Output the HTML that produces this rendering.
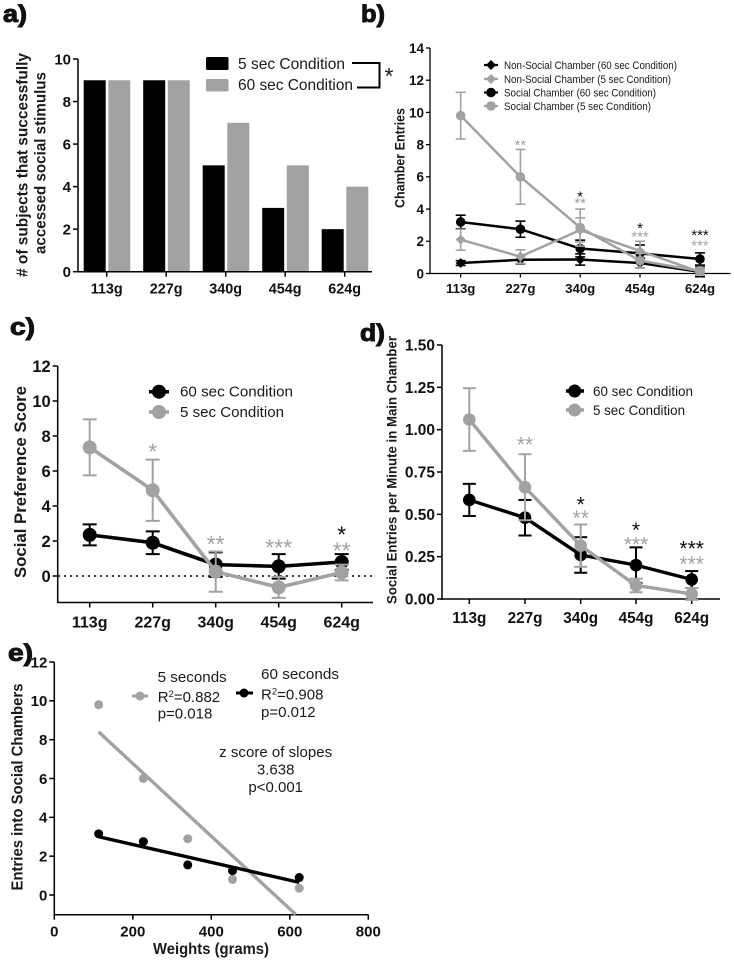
<!DOCTYPE html>
<html lang="en">
<head>
<meta charset="utf-8">
<title>Social stimulus access charts</title>
<style>
html,body{margin:0;padding:0;background:#fff;}
body{width:734px;height:961px;overflow:hidden;}
svg{display:block;filter:blur(0.35px);}
text{font-family:"Liberation Sans",sans-serif;fill:#1a1a1a;}
.b{font-weight:bold;}
.pl{font-weight:bold;font-size:24px;fill:#111;stroke:#111;stroke-width:1px;}
</style>
</head>
<body>
<svg id="fig" width="734" height="961" viewBox="0 0 734 961" xmlns="http://www.w3.org/2000/svg">
  <rect width="734" height="961" fill="#fff"/>

  <text class="pl" x="3" y="22" textLength="24" lengthAdjust="spacingAndGlyphs">a)</text>
  <text class="pl" x="361" y="22" textLength="24" lengthAdjust="spacingAndGlyphs">b)</text>
  <text class="pl" x="10" y="335" textLength="25" lengthAdjust="spacingAndGlyphs">c)</text>
  <text class="pl" x="360" y="341" textLength="25" lengthAdjust="spacingAndGlyphs">d)</text>
  <text class="pl" x="8" y="661" textLength="25" lengthAdjust="spacingAndGlyphs">e)</text>

  <!-- Panel a static -->
  <g id="panel-a">
    <text class="b" font-size="16" text-anchor="middle" textLength="224" lengthAdjust="spacingAndGlyphs" transform="translate(27.500,165) rotate(-90)"># of subjects that successfully</text>
    <text class="b" font-size="16" text-anchor="middle" textLength="182" lengthAdjust="spacingAndGlyphs" transform="translate(45.500,163) rotate(-90)">accessed social stimulus</text>
  </g>
  <g>
    <rect x="206" y="57" width="22.5" height="13" rx="1.5" fill="#000"/>
    <rect x="206" y="79" width="22.5" height="12.5" rx="1.5" fill="#a2a2a2"/>
    <text x="238" y="69" font-size="16" textLength="107" lengthAdjust="spacingAndGlyphs">5 sec Condition</text>
    <text x="238" y="90" font-size="16" textLength="115" lengthAdjust="spacingAndGlyphs">60 sec Condition</text>
    <path d="M352 63H379.5V87.5H357" fill="none" stroke="#000" stroke-width="2"/>
    <text x="389" y="84" font-size="23" text-anchor="middle" fill="#000">*</text>
  </g>

  <!-- Panel b static -->
  <g id="panel-b">
    <text class="b" font-size="13.500" text-anchor="middle" textLength="100" lengthAdjust="spacingAndGlyphs" transform="translate(404.500,158) rotate(-90)">Chamber Entries</text>
  </g>
  <g>
    <path d="M484 65H498" stroke="#000" stroke-width="2.2"/>
    <path d="M491 60L496 65L491 70L486 65Z" fill="#000"/>
    <path d="M484 79H498" stroke="#a2a2a2" stroke-width="2.2"/>
    <path d="M491 74L496 79L491 84L486 79Z" fill="#a2a2a2"/>
    <path d="M484 92.500H498" stroke="#000" stroke-width="2.2"/>
    <circle cx="491" cy="92.500" r="4.800" fill="#000"/>
    <path d="M484 106H498" stroke="#a2a2a2" stroke-width="2.2"/>
    <circle cx="491" cy="106" r="4.800" fill="#a2a2a2"/>
    <text x="504" y="69" font-size="11" textLength="173" lengthAdjust="spacingAndGlyphs">Non-Social Chamber (60 sec Condition)</text>
    <text x="504" y="83" font-size="11" textLength="167" lengthAdjust="spacingAndGlyphs">Non-Social Chamber (5 sec Condition)</text>
    <text x="504" y="96.500" font-size="11" textLength="152" lengthAdjust="spacingAndGlyphs">Social Chamber (60 sec Condition)</text>
    <text x="504" y="110" font-size="11" textLength="147" lengthAdjust="spacingAndGlyphs">Social Chamber (5 sec Condition)</text>
  </g>

  <!-- Panel c static -->
  <g id="panel-c">
    <text class="b" font-size="17" text-anchor="middle" textLength="192" lengthAdjust="spacingAndGlyphs" transform="translate(26,482) rotate(-90)">Social Preference Score</text>
  </g>
  <g>
    <path d="M149 391.700H169" stroke="#000" stroke-width="3.500"/>
    <circle cx="159" cy="391.700" r="7" fill="#000"/>
    <path d="M149 412H169" stroke="#a2a2a2" stroke-width="3.500"/>
    <circle cx="159" cy="412" r="7" fill="#a2a2a2"/>
    <text x="180" y="396.500" font-size="15" textLength="113" lengthAdjust="spacingAndGlyphs">60 sec Condition</text>
    <text x="180" y="417" font-size="15" textLength="104" lengthAdjust="spacingAndGlyphs">5 sec Condition</text>
  </g>

  <!-- Panel d static -->
  <g id="panel-d">
    <text class="b" font-size="14" text-anchor="middle" textLength="268" lengthAdjust="spacingAndGlyphs" transform="translate(396.500,470) rotate(-90)">Social Entries per Minute in Main Chamber</text>
  </g>
  <g>
    <path d="M566 391H584" stroke="#000" stroke-width="3.500"/>
    <circle cx="574.700" cy="391" r="6.500" fill="#000"/>
    <path d="M566 410H584" stroke="#a2a2a2" stroke-width="3.500"/>
    <circle cx="574.700" cy="410" r="6.500" fill="#a2a2a2"/>
    <text x="593" y="396" font-size="14" textLength="100" lengthAdjust="spacingAndGlyphs">60 sec Condition</text>
    <text x="593" y="415" font-size="14" textLength="92" lengthAdjust="spacingAndGlyphs">5 sec Condition</text>
  </g>

  <!-- Panel e static -->
  <g id="panel-e">
    <text class="b" font-size="15.500" text-anchor="middle" textLength="207" lengthAdjust="spacingAndGlyphs" transform="translate(22.500,787) rotate(-90)">Entries into Social Chambers</text>
    <text class="b" x="211" y="954" font-size="15.500" text-anchor="middle" textLength="116" lengthAdjust="spacingAndGlyphs">Weights (grams)</text>
  </g>
  <g>
    <path d="M132 696H148" stroke="#a2a2a2" stroke-width="3"/>
    <circle cx="140" cy="696" r="4.500" fill="#a2a2a2"/>
    <path d="M236 693H253" stroke="#000" stroke-width="3"/>
    <circle cx="244" cy="693" r="4.500" fill="#000"/>
    <text x="157.700" y="682" font-size="15" textLength="69" lengthAdjust="spacingAndGlyphs">5 seconds</text>
    <text x="157.700" y="702" font-size="15">R<tspan font-size="9.500" dy="-5">2</tspan><tspan dy="5">=0.882</tspan></text>
    <text x="157.700" y="718.500" font-size="15">p=0.018</text>
    <text x="261" y="679" font-size="15" textLength="78" lengthAdjust="spacingAndGlyphs">60 seconds</text>
    <text x="261" y="699.500" font-size="15">R<tspan font-size="9.500" dy="-5">2</tspan><tspan dy="5">=0.908</tspan></text>
    <text x="261" y="717" font-size="15">p=0.012</text>
    <text x="275.700" y="757" font-size="15" text-anchor="middle" textLength="113" lengthAdjust="spacingAndGlyphs">z score of slopes</text>
    <text x="275.700" y="774.500" font-size="15" text-anchor="middle">3.638</text>
    <text x="275.700" y="792" font-size="15" text-anchor="middle">p&lt;0.001</text>
  </g>
</svg>

<script>
// Shared categories
var weightLabels = ['113g', '227g', '340g', '454g', '624g'];

// Panel a
var aFiveSec = [9, 9, 5, 3, 2];
var aSixtySec = [9, 9, 7, 5, 4];
var aTicks = [0, 2, 4, 6, 8, 10];

// Panel b
var bTicks = [0, 2, 4, 6, 8, 10, 12, 14];
var bSocial5 = [9.8, 6, 2.85, 0.8, 0.15];
var bSocial5Err = [1.45, 1.7, 1.15, 0.45, 0.2];
var bSocial60 = [3.2, 2.75, 1.55, 1.25, 0.9];
var bSocial60Err = [0.42, 0.5, 0.52, 0.52, 0.38];
var bNon5 = [2.1, 1.05, 2.7, 1.4, 0.1];
var bNon5Err = [0.65, 0.42, 0.75, 0.6, 0.2];
var bNon60 = [0.65, 0.85, 0.87, 0.65, 0.1];
var bNon60Err = [0.15, 0.25, 0.35, 0.3, 0.3];
var bStars5 = ['', '**', '**', '***', '***'];
var bStars5Level = [0, 8.2, 4.6, 2.5, 1.95];
var bStars60 = ['', '', '*', '*', '***'];
var bStars60Level = [0, 0, 5, 3.05, 2.6];

// Panel c
var cTicks = [0, 2, 4, 6, 8, 10, 12];
var c60 = [2.35, 1.9, 0.65, 0.55, 0.8];
var c60Err = [0.6, 0.65, 0.7, 0.7, 0.45];
var c5 = [7.35, 4.9, 0.25, -0.65, 0.2];
var c5Err = [1.6, 1.75, 1.15, 0.6, 0.45];
var cStars5 = ['', '*', '**', '***', '**'];
var cStars5Level = [0, 7.4, 2.1, 1.9, 1.75];
var cStars60 = ['', '', '', '', '*'];
var cStars60Level = [0, 0, 0, 0, 2.65];

// Panel d
var dTicks = [0, 0.25, 0.5, 0.75, 1, 1.25, 1.5];
var dTickLabels = ['0.00', '0.25', '0.50', '0.75', '1.00', '1.25', '1.50'];
var d60 = [0.585, 0.48, 0.26, 0.2, 0.115];
var d60Err = [0.095, 0.105, 0.105, 0.105, 0.05];
var d5 = [1.06, 0.66, 0.315, 0.08, 0.03];
var d5Err = [0.185, 0.195, 0.125, 0.04, 0.035];
var dStars5 = ['', '**', '**', '***', '***'];
var dStars5Level = [0, 0.94, 0.505, 0.35, 0.235];
var dStars60 = ['', '', '*', '*', '***'];
var dStars60Level = [0, 0, 0.585, 0.435, 0.325];

// Panel e
var eXTicks = [0, 200, 400, 600, 800];
var eYTicks = [0, 2, 4, 6, 8, 10, 12];
var eWeights = [113, 227, 340, 454, 624];
var e5Points = [9.8, 6, 2.9, 0.8, 0.35];
var e60Points = [3.15, 2.75, 1.55, 1.25, 0.9];
var e5Fit = [8.4, -1];
var e5FitWeights = [113, 615];
var e60Fit = [3.0, 0.65];
var e60FitWeights = [113, 624];

var NS = 'http://www.w3.org/2000/svg';
var GRAY = '#a2a2a2';
var BLACK = '#000';

function mkLine(parent, x1, y1, x2, y2, stroke, width, name) {
  var el = document.createElementNS(NS, 'line');
  el.setAttribute('x1', x1);
  el.setAttribute('y1', y1);
  el.setAttribute('x2', x2);
  el.setAttribute('y2', y2);
  el.setAttribute('stroke', stroke);
  el.setAttribute('stroke-width', width);
  
  
  parent.appendChild(el);
  return el;
}

function mkText(parent, str, x, y, size, anchor, bold, fill, name) {
  var el = document.createElementNS(NS, 'text');
  el.setAttribute('x', x);
  el.setAttribute('y', y);
  el.setAttribute('font-size', size);
  el.setAttribute('text-anchor', anchor);
  if (bold) el.setAttribute('font-weight', 'bold');
  el.style.fill = fill;
  el.textContent = str;
  
  
  parent.appendChild(el);
  return el;
}

function mkCircle(parent, cx, cy, r, fill, name) {
  var el = document.createElementNS(NS, 'circle');
  el.setAttribute('cx', cx);
  el.setAttribute('cy', cy);
  el.setAttribute('r', r);
  el.setAttribute('fill', fill);
  
  
  parent.appendChild(el);
  return el;
}

function mkRect(parent, x, y, w, h, fill, name) {
  var el = document.createElementNS(NS, 'rect');
  el.setAttribute('x', x);
  el.setAttribute('y', y);
  el.setAttribute('width', w);
  el.setAttribute('height', h);
  el.setAttribute('fill', fill);
  
  
  parent.appendChild(el);
  return el;
}

function mkDiamond(parent, cx, cy, r, fill, name) {
  var el = document.createElementNS(NS, 'polygon');
  el.setAttribute('points', (cx - r) + ',' + cy + ' ' + cx + ',' + (cy - r) + ' ' + (cx + r) + ',' + cy + ' ' + cx + ',' + (cy + r));
  el.setAttribute('fill', fill);
  
  
  parent.appendChild(el);
  return el;
}

function scale(d0, d1, r0, r1) {
  return function (v) { return r0 + (v - d0) * (r1 - r0) / (d1 - d0); };
}

function drawYAxis(g, x, yTop, yBot, sy, ticks, labels, fs, sw, tl) {
  mkLine(g, x, yTop, x, yBot, BLACK, sw, 'y-axis-line');
  ticks.forEach(function (t, i) {
    mkLine(g, x - tl, sy(t), x, sy(t), BLACK, sw, 'y-axis-tick');
    mkText(g, labels[i], x - tl - 2, sy(t) + fs * 0.36, fs, 'end', true, '#111', 'y-axis-tick-label');
  });
}

function drawXAxis(g, y, xStart, xEnd, xs, labels, fs, sw, tl, gap) {
  mkLine(g, xStart, y, xEnd, y, BLACK, sw, 'x-axis-line');
  xs.forEach(function (x, i) {
    mkLine(g, x, y, x, y + tl, BLACK, sw, 'x-axis-tick');
    mkText(g, labels[i], x, y + gap, fs, 'middle', true, '#111', 'x-axis-tick-label');
  });
}

function drawSeries(g, xs, sy, vals, errs, color, lw, cap, capW, r, marker, name) {
  vals.forEach(function (v, i) {
    mkLine(g, xs[i], sy(v + errs[i]), xs[i], sy(v - errs[i]), color, capW, name + '-error-bar');
    mkLine(g, xs[i] - cap, sy(v + errs[i]), xs[i] + cap, sy(v + errs[i]), color, capW, name + '-error-cap-upper');
    mkLine(g, xs[i] - cap, sy(v - errs[i]), xs[i] + cap, sy(v - errs[i]), color, capW, name + '-error-cap-lower');
  });
  for (var i = 0; i < vals.length - 1; i++) {
    mkLine(g, xs[i], sy(vals[i]), xs[i + 1], sy(vals[i + 1]), color, lw, name + '-line-segment');
  }
  vals.forEach(function (v, i) {
    if (marker === 'diamond') {
      mkDiamond(g, xs[i], sy(v), r, color, name + '-point');
    } else {
      mkCircle(g, xs[i], sy(v), r, color, name + '-point');
    }
  });
}

function drawStars(g, xs, sy, stars, levels, color, fs, name) {
  stars.forEach(function (s, i) {
    if (!s) return;
    mkText(g, s, xs[i], sy(levels[i]) + fs * 0.56, fs, 'middle', false, color, name);
  });
}

/* ---------- Panel a ---------- */
(function () {
  var g = document.getElementById('panel-a');
  var sy = scale(0, 10, 271.7, 59);
  var xs = [106.7, 166.2, 225.7, 285.2, 344.7];
  aFiveSec.forEach(function (v, i) {
    mkRect(g, xs[i] - 23, sy(v), 22, sy(0) - sy(v), BLACK, 'bar-5-sec-' + weightLabels[i]);
  });
  aSixtySec.forEach(function (v, i) {
    mkRect(g, xs[i] + 1.6, sy(v), 22, sy(0) - sy(v), GRAY, 'bar-60-sec-' + weightLabels[i]);
  });
  drawYAxis(g, 78, 59, 272, sy, aTicks, aTicks, 15, 1.5, 5);
  drawXAxis(g, 271.7, 78, 372, xs, weightLabels, 14.4, 1.5, 5, 22);
})();

/* ---------- Panel b ---------- */
(function () {
  var g = document.getElementById('panel-b');
  var sy = scale(0, 14, 273.5, 48);
  var xs = [460.7, 520.4, 580.2, 640, 700];
  drawYAxis(g, 430, 48, 274, sy, bTicks, bTicks, 13.5, 1.3, 4);
  drawXAxis(g, 273.5, 430, 730.5, xs, weightLabels, 13.2, 1.3, 4, 19.5);
  drawSeries(g, xs, sy, bNon60, bNon60Err, BLACK, 2.5, 5, 1.6, 5, 'diamond', 'nonsocial-60-sec');
  drawSeries(g, xs, sy, bSocial60, bSocial60Err, BLACK, 2.5, 5, 1.6, 4.8, 'circle', 'social-60-sec');
  drawSeries(g, xs, sy, bNon5, bNon5Err, GRAY, 2.5, 5, 1.6, 5, 'diamond', 'nonsocial-5-sec');
  drawSeries(g, xs, sy, bSocial5, bSocial5Err, GRAY, 2.5, 5, 1.6, 4.8, 'circle', 'social-5-sec');
  drawStars(g, xs, sy, bStars5, bStars5Level, GRAY, 15, 'significance-5-sec');
  drawStars(g, xs, sy, bStars60, bStars60Level, '#111', 15, 'significance-60-sec');
})();

/* ---------- Panel c ---------- */
(function () {
  var g = document.getElementById('panel-c');
  var sy = scale(0, 12, 576, 366);
  var xs = [89.7, 152.7, 215.7, 278.7, 341.7];
  drawYAxis(g, 57.7, 366, 603, sy, cTicks, cTicks, 16.5, 1.5, 5);
  drawXAxis(g, 602.5, 57.7, 373, xs, weightLabels, 16, 1.5, 5, 25);
  var dots = mkLine(g, 58, sy(0), 373, sy(0), BLACK, 1.5, 'zero-reference-line');
  dots.setAttribute('stroke-dasharray', '2 4');
  drawSeries(g, xs, sy, c60, c60Err, BLACK, 3.6, 7, 2, 7, 'circle', 'series-60-sec');
  drawSeries(g, xs, sy, c5, c5Err, GRAY, 3.6, 7, 2, 7, 'circle', 'series-5-sec');
  drawStars(g, xs, sy, cStars5, cStars5Level, GRAY, 23, 'significance-5-sec');
  drawStars(g, xs, sy, cStars60, cStars60Level, '#111', 23, 'significance-60-sec');
})();

/* ---------- Panel d ---------- */
(function () {
  var g = document.getElementById('panel-d');
  var sy = scale(0, 1.5, 599, 345);
  var xs = [469.3, 525, 580.7, 636, 691.7];
  drawYAxis(g, 442, 345, 600, sy, dTicks, dTickLabels, 15.5, 1.5, 5);
  drawXAxis(g, 599, 442, 720, xs, weightLabels, 15.3, 1.5, 5, 24);
  drawSeries(g, xs, sy, d60, d60Err, BLACK, 3.4, 6.5, 2, 6.3, 'circle', 'series-60-sec');
  drawSeries(g, xs, sy, d5, d5Err, GRAY, 3.4, 6.5, 2, 6.3, 'circle', 'series-5-sec');
  drawStars(g, xs, sy, dStars5, dStars5Level, GRAY, 21, 'significance-5-sec');
  drawStars(g, xs, sy, dStars60, dStars60Level, '#111', 21, 'significance-60-sec');
})();

/* ---------- Panel e ---------- */
(function () {
  var g = document.getElementById('panel-e');
  var sx = scale(0, 800, 54.3, 368.3);
  var sy = scale(0, 12, 895, 662);
  var xTickPos = eXTicks.map(function (t) { return sx(t); });
  drawYAxis(g, 54.3, 662, 915.5, sy, eYTicks, eYTicks, 15, 1.5, 5);
  drawXAxis(g, 914.7, 54.3, 368.3, xTickPos, eXTicks, 15, 1.5, 5, 22);
  e5Points.forEach(function (v, i) {
    mkCircle(g, sx(eWeights[i]), sy(v), 4.5, GRAY, 'point-5-seconds');
  });
  e60Points.forEach(function (v, i) {
    mkCircle(g, sx(eWeights[i]), sy(v), 4.5, BLACK, 'point-60-seconds');
  });
  mkLine(g, sx(e5FitWeights[0]), sy(e5Fit[0]), sx(e5FitWeights[1]), sy(e5Fit[1]), GRAY, 3.4, 'fit-line-5-seconds');
  mkLine(g, sx(e60FitWeights[0]), sy(e60Fit[0]), sx(e60FitWeights[1]), sy(e60Fit[1]), BLACK, 3.4, 'fit-line-60-seconds');
})();
</script>
</body>
</html>
